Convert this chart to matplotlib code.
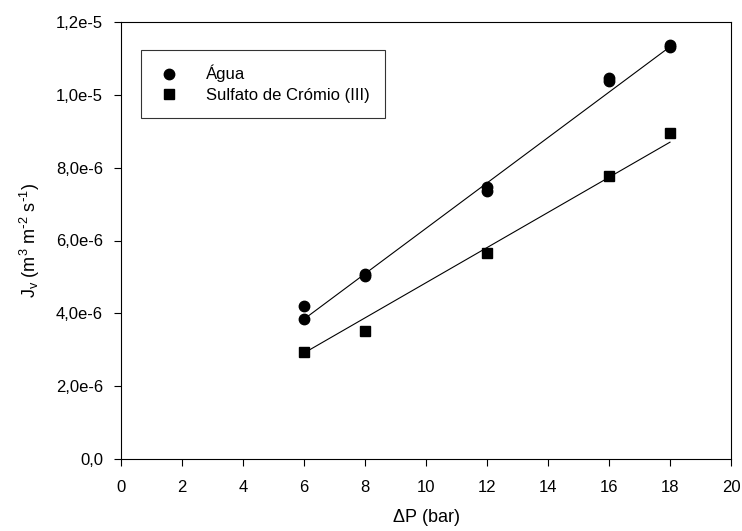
import numpy as np
import matplotlib
matplotlib.use("Agg")
import matplotlib.pyplot as plt
from matplotlib.ticker import FuncFormatter, MultipleLocator

plt.rcParams['font.family'] = ['Liberation Sans', 'DejaVu Sans']
plt.rcParams['mathtext.default'] = 'regular'

# data
dp_agua = [6, 6, 8, 8, 12, 12, 16, 16, 18, 18]
jv_agua = [4.20e-6, 3.84e-6, 5.07e-6, 5.03e-6, 7.46e-6, 7.36e-6,
           10.45e-6, 10.37e-6, 11.38e-6, 11.30e-6]
dp_crom = [6, 8, 12, 16, 18]
jv_crom = [2.95e-6, 3.52e-6, 5.66e-6, 7.77e-6, 8.94e-6]

# fitted lines as drawn (value at dp=6 and dp=18)
fit_dp = [6, 18]
fit_agua = [3.84e-6, 11.32e-6]
fit_crom = [2.91e-6, 8.70e-6]

fig = plt.figure(figsize=(7.42, 5.31), dpi=100)
ax = fig.add_axes([121 / 742, 72 / 531, 610 / 742, 437 / 531])

ax.plot(fit_dp, fit_agua, color='black', lw=0.8)
ax.plot(fit_dp, fit_crom, color='black', lw=0.8)
ax.plot(dp_agua, jv_agua, 'o', color='black', ms=7.5, label='Água', zorder=3)
ax.plot(dp_crom, jv_crom, 's', color='black', ms=7, label='Sulfato de Crómio (III)', zorder=3)

ax.set_xlim(0, 20)
ax.set_ylim(0, 1.2e-5)
ax.xaxis.set_major_locator(MultipleLocator(2))
ax.yaxis.set_major_locator(MultipleLocator(2e-6))


def fmt_y(v, pos):
    if abs(v) < 1e-12:
        return '0,0'
    s = '%.1e' % v
    mant, ex = s.split('e')
    return mant.replace('.', ',') + 'e' + str(int(ex))


ax.yaxis.set_major_formatter(FuncFormatter(fmt_y))
ax.tick_params(direction='out', length=5, width=0.8, labelsize=12, pad=8)
ax.tick_params(axis='x', pad=10)
for sp in ax.spines.values():
    sp.set_linewidth(0.8)

ax.set_xlabel(r'$\Delta$P (bar)', fontsize=13, labelpad=9)
ax.set_ylabel(r'J$_v$ (m$^3$ m$^{\text{-}2}$ s$^{\text{-}1}$)', fontsize=13, labelpad=10)

leg = ax.legend(loc='upper left', bbox_to_anchor=(20 / 610, 1 - 28 / 437),
                borderaxespad=0, fontsize=12, frameon=True, fancybox=False,
                edgecolor='black', handletextpad=1.5, borderpad=0.9,
                labelspacing=0.35, handlelength=1.5)
leg.get_frame().set_linewidth(0.8)

fig.savefig('out.png', dpi=100)
